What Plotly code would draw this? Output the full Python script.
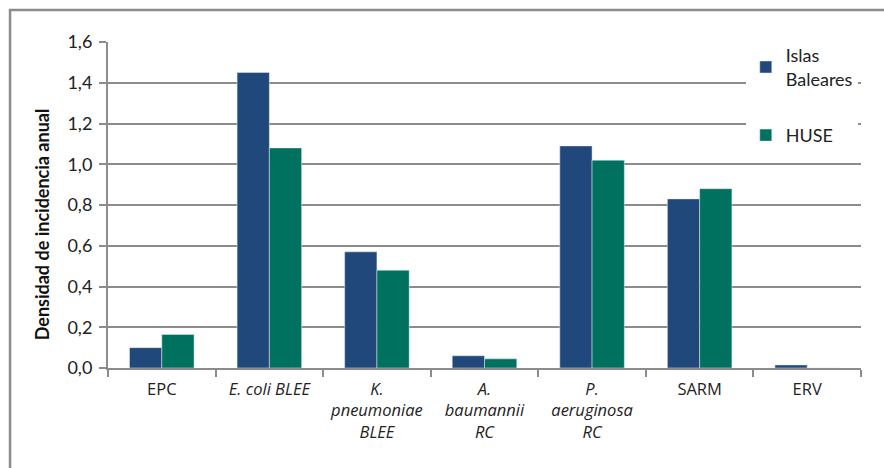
import plotly.graph_objects as go

# Antibiotic-resistant organisms: annual incidence density
categories = [
    "EPC",
    "<i>E. coli BLEE</i>",
    "<i>K.<br>pneumoniae<br>BLEE</i>",
    "<i>A.<br>baumannii<br>RC</i>",
    "<i>P.<br>aeruginosa<br>RC</i>",
    "SARM",
    "ERV",
]
islas_baleares = [0.10, 1.45, 0.57, 0.06, 1.09, 0.83, 0.015]
huse = [0.165, 1.08, 0.48, 0.045, 1.02, 0.88, 0.0]

y_ticks = [0.0, 0.2, 0.4, 0.6, 0.8, 1.0, 1.2, 1.4, 1.6]

GRID = "#8c8c8c"
BLUE = "#21487b"
GREEN = "#00705f"

fig = go.Figure()
fig.add_trace(go.Bar(x=categories, y=islas_baleares, name="Islas<br>Baleares",
                     marker_color=BLUE, legendgroup="a"))
fig.add_trace(go.Bar(x=categories, y=huse, name="HUSE",
                     marker_color=GREEN, legendgroup="b"))

fig.update_layout(
    width=884, height=468,
    margin=dict(l=108, r=23, t=42, b=100),
    paper_bgcolor="white", plot_bgcolor="white",
    barmode="group", bargap=0.40, bargroupgap=0.0,
    separators=", ",
    showlegend=True,
    legend=dict(
        x=0.847, y=1.015, xanchor="left", yanchor="top",
        bgcolor="white", font=dict(family="Lato", size=18, color="#222"),
        tracegroupgap=30, traceorder="grouped",
    ),
    xaxis=dict(
        showline=True, linecolor=GRID, linewidth=2,
        ticks="outside", tickson="boundaries", ticklen=7, tickwidth=2, tickcolor=GRID,
        tickfont=dict(family="Open Sans", size=16.5, color="#222"),
        ticklabelstandoff=5,
        showgrid=False,
    ),
    yaxis=dict(
        range=[0, 1.6], tickvals=y_ticks, tickformat=".1f",
        showline=True, linecolor=GRID, linewidth=2,
        ticks="outside", ticklen=7, tickwidth=2, tickcolor=GRID,
        showgrid=True, gridcolor=GRID, gridwidth=2,
        tickfont=dict(family="Lato", size=18, color="#222"),
        ticklabelstandoff=3,
        zeroline=False,
    ),
    annotations=[dict(
        text="<b>Densidad de incidencia anual</b>", textangle=-90,
        xref="paper", yref="paper", x=-0.088, y=0.44,
        xanchor="center", yanchor="middle", showarrow=False,
        font=dict(family="Lato", size=18, color="#111"),
    )],
    shapes=[dict(
        type="rect", xref="paper", yref="paper",
        x0=-0.1301, x1=1.5, y0=-0.6, y1=1.098,
        line=dict(color=GRID, width=2.5), fillcolor="rgba(0,0,0,0)", layer="below",
    )],
)

fig.write_html("out.html")
